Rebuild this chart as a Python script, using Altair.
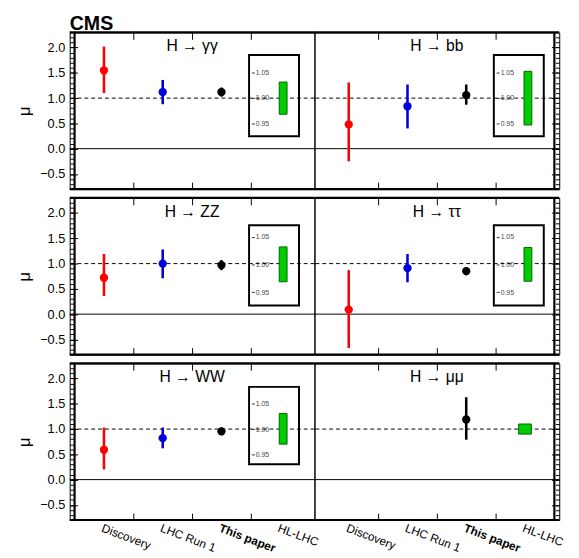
import altair as alt
import pandas as pd

CATEGORIES = ["Discovery", "LHC Run 1", "This paper", "HL-LHC"]
CHANNELS = ["H → γγ", "H → bb", "H → ZZ", "H → ττ", "H → WW", "H → μμ"]

DISC_MU = [1.55, 0.48, 0.72, 0.09, 0.59, None]
DISC_LO = [1.10, -0.25, 0.36, -0.67, 0.20, None]
DISC_HI = [2.02, 1.31, 1.19, 0.87, 1.03, None]
RUN1_MU = [1.12, 0.84, 1.00, 0.91, 0.82, None]
RUN1_LO = [0.88, 0.40, 0.71, 0.63, 0.62, None]
RUN1_HI = [1.36, 1.27, 1.28, 1.19, 1.03, None]
THIS_MU = [1.12, 1.06, 0.97, 0.85, 0.955, 1.19]
THIS_LO = [1.03, 0.87, 0.87, 0.77, 0.88, 0.79]
THIS_HI = [1.21, 1.27, 1.07, 0.93, 1.03, 1.63]
HL_LO = [0.968, 0.947, 0.969, 0.970, 0.970, 0.90]
HL_HI = [1.031, 1.052, 1.032, 1.031, 1.031, 1.10]
HAS_INSET = [True, True, True, True, True, False]

SERIES_COLORS = ["#ff0000", "#0000dd", "#000000"]
FONT = "Liberation Sans"

W, H = 250, 160
XDOM = [0, 4]
YDOM = [-0.8, 2.3]
MAJ = [-0.5, 0.0, 0.5, 1.0, 1.5, 2.0]
MINOR = [round(-0.7 + 0.1 * k, 1) for k in range(30)]
INSET_X = (2.97, 3.82)
INSET_DOMAIN = [(0.925, 1.084), (0.926, 1.071), (0.930, 1.084)]
INSET_RANGE = [(106, 23), (110, 28), (103, 24)]

rows = []
for i, ch in enumerate(CHANNELS):
    for k, (mu, lo, hi) in enumerate([(DISC_MU, DISC_LO, DISC_HI),
                                      (RUN1_MU, RUN1_LO, RUN1_HI),
                                      (THIS_MU, THIS_LO, THIS_HI)]):
        if mu[i] is None:
            continue
        rows.append({"channel": ch, "cat": CATEGORIES[k], "x": k + 0.5,
                     "mu": mu[i], "lo": lo[i], "hi": hi[i]})
df = pd.DataFrame(rows)

XS = alt.Scale(domain=XDOM, nice=False, zero=False)
YS = alt.Scale(domain=YDOM, nice=False, zero=False)
COLOR = alt.Color("cat:N", scale=alt.Scale(domain=CATEGORIES[:3], range=SERIES_COLORS), legend=None)


def panel(i):
    col, row = i % 2, i // 2
    name = CHANNELS[i]
    pts = df[df.channel == name]

    x_bottom = alt.Axis(orient="bottom", values=[1, 2, 3], labels=False, domain=False, grid=False,
                        tickSize=7, offset=-7, title=None, tickColor="black", minExtent=0)
    if col == 0:
        y_left = alt.Axis(orient="left", values=MAJ, format=".1f", domain=False, grid=False,
                          tickSize=8, offset=-8, labelPadding=5, labelFontSize=13, labelFont=FONT,
                          labelColor="black", title="μ", titleFontSize=17, titleFont=FONT,
                          titleFontWeight="normal", titlePadding=6, titleColor="black",
                          tickColor="black", minExtent=0)
    else:
        y_left = None

    def X(f):
        return alt.X(f, type="quantitative", scale=XS, axis=x_bottom)

    def Y(f):
        return alt.Y(f, type="quantitative", scale=YS, axis=y_left)

    ref = pd.DataFrame({"v": [0.0, 1.0], "kind": ["zero", "sm"]})
    zero = alt.Chart(ref).transform_filter("datum.kind == 'zero'").mark_rule(
        color="black", strokeWidth=1).encode(y=Y("v"))
    sm = alt.Chart(ref).transform_filter("datum.kind == 'sm'").mark_rule(
        color="black", strokeWidth=1, strokeDash=[4, 3]).encode(y=Y("v"))
    # thicker outer frame of each row (top, bottom and outer side)
    edges_h = pd.DataFrame({"v": YDOM})
    edges_v = pd.DataFrame({"u": [XDOM[col]]})
    frame_h = alt.Chart(edges_h).mark_rule(color="black", strokeWidth=2.2).encode(y=Y("v"))
    frame_v = alt.Chart(edges_v).mark_rule(color="black", strokeWidth=2.2).encode(x=X("u"))
    err = alt.Chart(pts).mark_rule(strokeWidth=2.6).encode(x=X("x"), y=Y("lo"), y2="hi", color=COLOR)
    dots = alt.Chart(pts).mark_circle(size=72, opacity=1).encode(x=X("x"), y=Y("mu"), color=COLOR)
    ttl = alt.Chart(pd.DataFrame({"tx": [2.0], "ty": [2.02], "label": [name]})).mark_text(
        fontSize=16, font=FONT, color="black", baseline="middle").encode(x=X("tx"), y=Y("ty"), text="label:N")
    main_layers = [zero, sm, frame_h, frame_v, err, dots, ttl]

    if not HAS_INSET[i]:
        hl = pd.DataFrame({"x": [3.5], "lo": [HL_LO[i]], "hi": [HL_HI[i]]})
        main_layers.append(alt.Chart(hl).mark_bar(size=13, color="#00cc00", stroke="#006600",
                                                  strokeWidth=1).encode(x=X("x"), y=Y("lo"), y2="hi"))

    if row == 2:
        labs = pd.DataFrame({"x": [k + 0.5 for k in range(4)], "label": CATEGORIES})
        main_layers.append(alt.Chart(labs).transform_filter("datum.label != 'This paper'").mark_text(
            angle=21, align="left", baseline="top", fontSize=12, font=FONT, color="black").encode(
            x=X("x"), y=alt.value(H + 3), text="label:N"))
        main_layers.append(alt.Chart(labs).transform_filter("datum.label == 'This paper'").mark_text(
            angle=21, align="left", baseline="top", fontSize=12, font=FONT, fontWeight="bold",
            color="black").encode(x=X("x"), y=alt.value(H + 3), text="label:N"))

    L1 = alt.layer(*main_layers)

    mirror = pd.DataFrame({"x": [0.0], "v": [0.0]})
    x_top = alt.Axis(orient="top", values=[1, 2, 3], labels=False, domain=False, grid=False,
                     tickSize=7, offset=-7, title=None, tickColor="black", minExtent=0)
    y_right = (alt.Axis(orient="right", values=MAJ, labels=False, domain=False, grid=False,
                        tickSize=8, offset=-8, title=None, tickColor="black", minExtent=0)
               if col == 1 else None)
    L2 = alt.Chart(mirror).mark_rule(opacity=0).encode(
        x=alt.X("x:Q", scale=XS, axis=x_top), y=alt.Y("v:Q", scale=YS, axis=y_right))
    L3 = alt.Chart(mirror).mark_rule(opacity=0).encode(
        x=alt.X("x:Q", scale=XS, axis=None),
        y=alt.Y("v:Q", scale=YS, axis=alt.Axis(orient="left" if col == 0 else "right", values=MINOR,
                                                labels=False, domain=False, grid=False, tickSize=4,
                                                offset=-4, title=None, tickColor="black",
                                                minExtent=0)))
    layers = [L1, L2, L3]

    if HAS_INSET[i]:
        dlo, dhi = INSET_DOMAIN[row]
        iscale = alt.Scale(domain=[dlo, dhi], range=list(INSET_RANGE[row]), nice=False, zero=False)
        iaxis = alt.Axis(orient="right", values=[0.95, 1.0, 1.05], format=".2f", labelFontSize=7,
                         labelFont=FONT, labelColor="#444", tickSize=3, tickColor="#333",
                         offset=INSET_X[0] * W / 4 - W, domain=False, grid=False, labelPadding=1,
                         title=None, minExtent=0)
        frame = pd.DataFrame({"x0": [INSET_X[0]], "x1": [INSET_X[1]], "y0": [dlo], "y1": [dhi]})
        hl = pd.DataFrame({"x": [3.5], "lo": [HL_LO[i]], "hi": [HL_HI[i]]})
        fr = alt.Chart(frame).mark_rect(fillOpacity=0, stroke="black", strokeWidth=2).encode(
            x=alt.X("x0:Q", scale=XS, axis=None), x2="x1",
            y=alt.Y("y0:Q", scale=iscale, axis=iaxis), y2="y1")
        bar = alt.Chart(hl).mark_bar(size=8, color="#00cc00", stroke="#006600", strokeWidth=1,
                                     xOffset=3).encode(
            x=alt.X("x:Q", scale=XS, axis=None),
            y=alt.Y("lo:Q", scale=iscale, axis=iaxis), y2="hi")
        layers.append(alt.layer(fr, bar))

    return alt.layer(*layers).resolve_scale(y="independent").resolve_axis(
        x="independent", y="independent").properties(width=W, height=H)


grid_rows = [alt.hconcat(panel(2 * r), panel(2 * r + 1), spacing=0, bounds="flush")
             for r in range(3)]
chart = alt.vconcat(*grid_rows, spacing=5).properties(
    title=alt.TitleParams(text="CMS", anchor="start", frame="group", fontSize=20, font=FONT,
                          fontWeight="bold", offset=-3, color="black"),
    padding={"left": 7, "top": 0, "right": 5, "bottom": 5},
).configure_view(stroke="black", strokeWidth=1).configure_axis(tickWidth=1)

chart.save("out.html", embed_options={"renderer": "svg", "actions": False})
